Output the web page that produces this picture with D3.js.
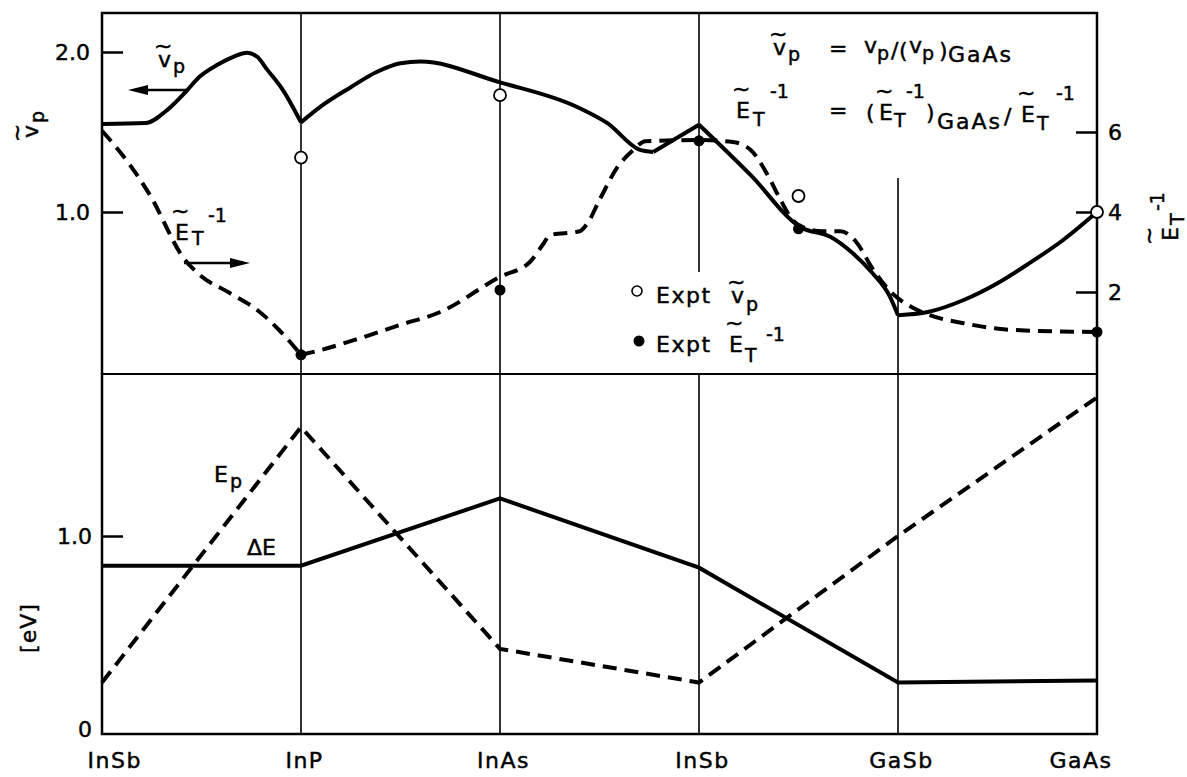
<!DOCTYPE html>
<html>
<head>
<meta charset="utf-8">
<script src="https://cdn.jsdelivr.net/npm/d3@7"></script>
<style>
  html, body { margin: 0; padding: 0; background: #fff; }
  svg { display: block; }
  text { font-family: "DejaVu Sans", "Liberation Sans", sans-serif; fill: #000; stroke: #000; stroke-width: 0.45px; }
</style>
</head>
<body>
<svg id="chart" width="1187" height="777"></svg>
<script>
// Alloy path: composition index 0..5 runs through these compounds
const categories = ["InSb", "InP", "InAs", "InSb", "GaSb", "GaAs"];

// Normalised plasma velocity ṽp = vp/(vp)GaAs  — [composition index, value]
const vpCurve = [
  [0, 1.55], [0.22, 1.556], [0.33, 1.64], [0.42, 1.75], [0.49, 1.845], [0.58, 1.92],
  [0.66, 1.97], [0.73, 1.995], [0.78, 1.97], [0.83, 1.89], [0.91, 1.76], [1, 1.56],
  [1.1, 1.66], [1.25, 1.78], [1.38, 1.875], [1.5, 1.93], [1.6, 1.94], [2, 1.81],
  [2.39, 1.655], [2.54, 1.555], [2.7, 1.39], [2.77, 1.375], [3, 1.545],
  [3.26, 1.23], [3.51, 0.905], [3.66, 0.845], [3.77, 0.745], [3.87, 0.62], [3.96, 0.47],
  [4, 0.355], [4.15, 0.375], [4.33, 0.45], [4.5, 0.555], [4.66, 0.68], [4.83, 0.825], [5, 1.0]
];
const vpKinks = [1, 2.77, 3, 4];

// Normalised inverse threshold field Ẽ_T^-1 — [composition index, value]
const etCurve = [
  [0, 6.03], [0.14, 5.18], [0.24, 4.43], [0.41, 2.85], [0.49, 2.43], [0.64, 1.98],
  [0.78, 1.55], [0.89, 1.05], [1, 0.43],
  [1.1, 0.55], [1.3, 0.85], [1.5, 1.18], [1.7, 1.5], [2, 2.38], [2.15, 2.75],
  [2.22, 3.22], [2.25, 3.42], [2.4, 3.52], [2.44, 3.72], [2.5, 4.3], [2.59, 5.12],
  [2.67, 5.55], [2.73, 5.77], [3, 5.8], [3.17, 5.75], [3.26, 5.55], [3.34, 4.97],
  [3.41, 4.3], [3.47, 3.8], [3.53, 3.6], [3.62, 3.52], [3.71, 3.52], [3.79, 3.25],
  [3.87, 2.6], [3.97, 1.97], [4.07, 1.62], [4.16, 1.42], [4.33, 1.22], [4.58, 1.05], [5, 1.0]
];
const etKinks = [1];

// Experimental points
const vpExptPos = [1, 2, 3.5, 5];
const vpExpt = [1.34, 1.73, 1.10, 1.0];
const etExptPos = [1, 2, 3, 3.5, 5];
const etExpt = [0.43, 2.05, 5.78, 3.58, 1.0];

// Lower panel energies [eV] at each compound
const deltaE = [0.85, 0.85, 1.19, 0.84, 0.26, 0.27];
const ePlasma = [0.26, 1.55, 0.43, 0.26, 1.0, 1.70];

// Tick values
const vpTicks = [1, 2];
const etTicks = [2, 4, 6];
const evTicks = [0, 1];

// ---- layout ----
const L = 102, R = 1097, T = 13, M = 374, B = 734;
const FONT = 22, SMALL = 19;

const svg = d3.select("#chart");

const x = d3.scaleLinear().domain([0, 5]).range([L, R]);
const yV = d3.scaleLinear().domain([0, 2.25]).range([372, 12]);
const yE = d3.scaleLinear().domain([0, 9]).range([372, 12]);
const yB = d3.scaleLinear().domain([0, 1.82]).range([B, B - 1.82 * 198]);

// ---- frame and compound guide lines ----
const frame = svg.append("g").attr("stroke", "#000").attr("fill", "none");
frame.append("rect").attr("x", L).attr("y", T).attr("width", R - L).attr("height", B - T)
  .attr("stroke-width", 2.5);
frame.append("line").attr("x1", L).attr("x2", R).attr("y1", M).attr("y2", M).attr("stroke-width", 2);

// guide line extents in the upper panel (some are interrupted by annotations)
const upperGuides = [null, [T, M], [T, M], [T, 272], [178, M], null];
categories.forEach((c, i) => {
  if (i === 0 || i === categories.length - 1) return;
  frame.append("line").attr("x1", x(i)).attr("x2", x(i)).attr("y1", M).attr("y2", B)
    .attr("stroke-width", 1.6);
  const g = upperGuides[i];
  if (g) frame.append("line").attr("x1", x(i)).attr("x2", x(i)).attr("y1", g[0]).attr("y2", g[1])
    .attr("stroke-width", 1.6);
});

// ---- axes ----
function styleAxis(g) {
  g.select(".domain").remove();
  g.attr("font-family", null).attr("font-size", null);
  g.selectAll(".tick line").attr("stroke", "#000").attr("stroke-width", 2.5);
  g.selectAll(".tick text").style("font-size", FONT + "px").attr("fill", "#000");
}
const fmt1 = d3.format(".1f");
svg.append("g").attr("transform", `translate(${L},0)`)
  .call(d3.axisLeft(yV).tickValues(vpTicks).tickFormat(fmt1).tickSize(-21).tickPadding(12))
  .call(styleAxis);
svg.append("g").attr("transform", `translate(${R},0)`)
  .call(d3.axisRight(yE).tickValues(etTicks).tickFormat(d3.format("d")).tickSize(-21).tickPadding(11))
  .call(styleAxis);
svg.append("g").attr("transform", `translate(${L},0)`)
  .call(d3.axisLeft(yB).tickValues(evTicks).tickFormat(d => d === 0 ? "0" : fmt1(d)).tickSize(-21).tickPadding(10))
  .call(styleAxis)
  .call(g => g.selectAll(".tick").filter(d => d === 0).select("line").remove())
  .call(g => g.selectAll(".tick").filter(d => d === 0).select("text").attr("dy", "0.1em"));

const xAxis = svg.append("g").attr("transform", `translate(0,${B})`)
  .call(d3.axisBottom(x).tickValues(d3.range(categories.length)).tickFormat(i => categories[i])
    .tickSize(0).tickPadding(18))
  .call(styleAxis);
xAxis.selectAll(".tick text")
  .style("letter-spacing", "1.5px")
  .attr("text-anchor", (d, i) => i === 0 ? "start" : i === categories.length - 1 ? "end" : "middle")
  .attr("dx", (d, i) => i === 0 ? -15 : i === categories.length - 1 ? 15 : 3);

// ---- curves ----
function pieces(data, kinks) {
  const out = [];
  let cur = [];
  data.forEach(p => {
    cur.push(p);
    if (kinks.includes(p[0])) {
      if (cur.length > 1) out.push(cur);
      cur = [p];
    }
  });
  if (cur.length > 1) out.push(cur);
  return out;
}
const lineV = d3.line().x(d => x(d[0])).y(d => yV(d[1])).curve(d3.curveMonotoneX);
const lineE = d3.line().x(d => x(d[0])).y(d => yE(d[1])).curve(d3.curveMonotoneX);
const lineB = d3.line().x((d, i) => x(i)).y(d => yB(d));

const curves = svg.append("g").attr("fill", "none").attr("stroke", "#000");
pieces(etCurve, etKinks).forEach(p => curves.append("path").attr("d", lineE(p))
  .attr("stroke-width", 4).attr("stroke-dasharray", "14,8"));
pieces(vpCurve, vpKinks).forEach(p => curves.append("path").attr("d", lineV(p))
  .attr("stroke-width", 4).attr("stroke-linejoin", "round"));

curves.append("path").attr("d", lineB(ePlasma)).attr("stroke-width", 4).attr("stroke-dasharray", "14,8");
curves.append("path").attr("d", lineB(deltaE)).attr("stroke-width", 4);

// ---- experimental points ----
const pts = svg.append("g");
etExpt.forEach((v, i) => pts.append("circle").attr("cx", x(etExptPos[i])).attr("cy", yE(v))
  .attr("r", 5.5).attr("fill", "#000"));
vpExpt.forEach((v, i) => pts.append("circle").attr("cx", x(vpExptPos[i])).attr("cy", yV(v))
  .attr("r", 6).attr("fill", "#fff").attr("stroke", "#000").attr("stroke-width", 1.8));

// ---- annotations ----
const ann = svg.append("g").style("font-size", FONT + "px");

// builds a text element from [string, x, y, small] runs; x and y may be per-glyph lists
function runs(parent, items) {
  const t = parent.append("text");
  items.forEach(([s, px, py, small]) => {
    t.append("tspan")
      .attr("x", Array.isArray(px) ? px.join(" ") : px)
      .attr("y", Array.isArray(py) ? py.join(" ") : py)
      .text(s)
      .style("font-size", (small ? SMALL : FONT) + "px");
  });
  return t;
}
// letter carrying a tilde accent: the "~" glyph sits above the letter
const vT = (px, py) => ["~v", [px - 4, px], [py - 14, py]];
const eT = (px, py) => ["~E", [px - 4, px], [py - 22, py]];

// arrows pointing to the relevant axis
function arrow(x1, x2, y) {
  const dir = Math.sign(x2 - x1);
  const head = 20;
  svg.append("line").attr("x1", x1).attr("x2", x2 - dir * head).attr("y1", y).attr("y2", y)
    .attr("stroke", "#000").attr("stroke-width", 2.5);
  svg.append("path")
    .attr("d", `M${x2},${y} L${x2 - dir * head},${y - 5} L${x2 - dir * head},${y + 5} Z`)
    .attr("fill", "#000");
}

// upper curve labels
runs(ann, [vT(158, 67), ["p", 173, 73, true]]);
arrow(186, 128, 90);
runs(ann, [eT(175, 240), ["T", 192, 245, true], ["-1", 208, 222, true]]);
arrow(184, 250, 263);

// definitions, top right
runs(ann, [vT(773, 55), ["p", 788, 61, true]]);
runs(ann, [["=", 829, 56]]);
runs(ann, [["v", 864, 53], ["p", 877, 60, true], ["/", 891, 58], ["(", 899, 58],
           ["v", 909, 53], ["p", 922, 60, true], [")", 939, 58]]);
runs(ann, [["GaAs", 948, 62]]).style("font-size", "23px").style("letter-spacing", "2px");

runs(ann, [eT(736, 118), ["T", 753, 126, true], ["-1", 770, 98, true]]);
runs(ann, [["=", 829, 118]]);
runs(ann, [["(", 866, 120], eT(879, 120), ["T", 894, 127, true], ["-1", 906, 98, true],
           [")", 926, 120]]);
runs(ann, [["GaAs", 937, 129]]).style("font-size", "23px").style("letter-spacing", "2px");
runs(ann, [["/", 1004, 124], eT(1021, 122), ["T", 1037, 130, true], ["-1", 1056, 100, true]]);

// legend
pts.append("circle").attr("cx", 637).attr("cy", 291).attr("r", 5)
  .attr("fill", "#fff").attr("stroke", "#000").attr("stroke-width", 1.6);
runs(ann, [["Expt", 656, 303]]).style("letter-spacing", "1.5px");
runs(ann, [vT(731, 303), ["p", 746, 311, true]]);
pts.append("circle").attr("cx", 639).attr("cy", 341).attr("r", 5.5).attr("fill", "#000");
runs(ann, [["Expt", 656, 352]]).style("letter-spacing", "1.5px");
runs(ann, [eT(729, 352), ["T", 745, 362, true], ["-1", 766, 341, true]]);

// axis titles (rotated)
runs(ann.append("g").attr("transform", "translate(38,138) rotate(-90)"),
  [vT(0, 0), ["p", 15, 6, true]]);
runs(ann.append("g").attr("transform", "translate(1178,241) rotate(-90)"),
  [eT(0, 0), ["T", 16, 6, true], ["-1", 30, -14, true]]);
ann.append("text").attr("transform", "translate(36,628) rotate(-90)")
  .attr("text-anchor", "middle").style("letter-spacing", "1px").text("[eV]");

// lower panel labels
runs(ann, [["E", 214, 482], ["p", 230, 488, true]]);
runs(ann, [["ΔE", 247, 555]]);
</script>
</body>
</html>
